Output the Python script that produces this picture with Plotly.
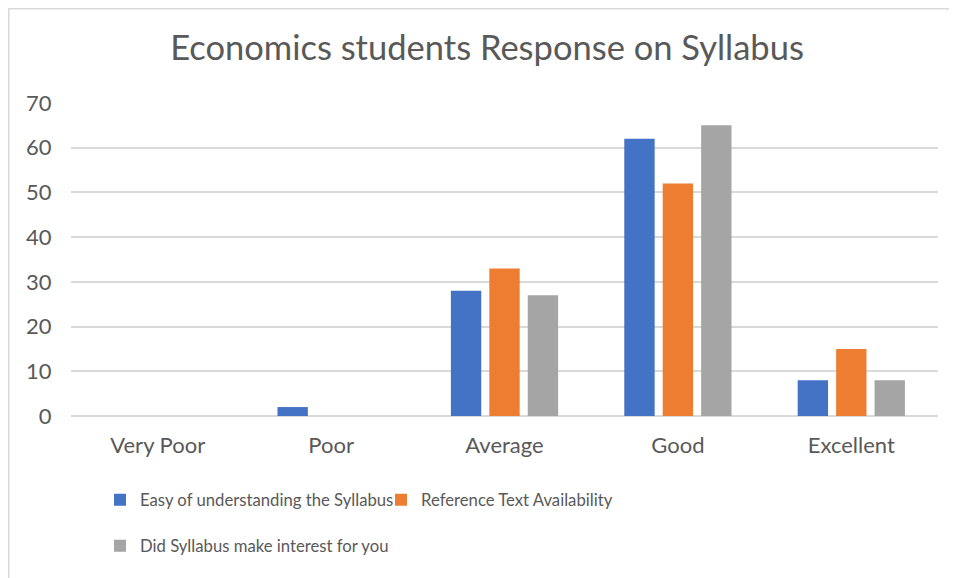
import plotly.graph_objects as go

categories = ["Very Poor", "Poor", "Average", "Good", "Excellent"]
series_names = [
    "Easy of understanding the Syllabus",
    "Reference Text Availability",
    "Did Syllabus make interest for you",
]
easy_vals = [0, 2, 28, 62, 8]
reference_vals = [0, 0, 33, 52, 15]
interest_vals = [0, 0, 27, 65, 8]
y_ticks = [0, 10, 20, 30, 40, 50, 60, 70]

colors = ["#4472C4", "#ED7D31", "#A5A5A5"]
FONT = "Lato"
TXT = "#595959"

fig = go.Figure()
for name, vals, col, lg in zip(series_names, [easy_vals, reference_vals, interest_vals],
                               colors, ["legend", "legend", "legend2"]):
    fig.add_trace(go.Bar(
        x=categories, y=vals, name=name,
        marker=dict(color=col, line=dict(width=0)),
        legend=lg,
    ))

# page body has an 8px margin, so the figure is a little smaller and shifted
OFF = 8
W, H = 957 - OFF, 578 - OFF
L, R, T, B = 71 - OFF, 19, 103 - OFF, 162
pw, ph = W - L - R, H - T - B

def px(x):
    return (x - OFF - L) / pw

def py(y):
    return (H - B - (y - OFF)) / ph

fig.update_layout(
    width=W, height=H,
    margin=dict(l=L, r=R, t=T, b=B),
    paper_bgcolor="white", plot_bgcolor="white",
    barmode="group", bargap=0.335, bargroupgap=0.21,
    font=dict(family=FONT, color=TXT, size=22),
    title=dict(text="Economics students Response on Syllabus",
               font=dict(family=FONT, size=34.5, color=TXT),
               x=px(487), xref="paper", xanchor="center",
               y=1 - (48 - OFF) / H, yref="container", yanchor="middle"),
    xaxis=dict(showgrid=False, showline=False, ticks="", ticklabelstandoff=14,
               automargin=False, tickfont=dict(size=22, color=TXT)),
    yaxis=dict(range=[0, 70], tickvals=y_ticks, showgrid=True, gridcolor="#d9d9d9",
               gridwidth=1.5, zeroline=True, zerolinecolor="#d9d9d9", zerolinewidth=1.5,
               showline=False, ticks="outside", ticklen=14, tickcolor="rgba(0,0,0,0)",
               automargin=False, tickfont=dict(size=22, color=TXT)),
    legend=dict(orientation="h", x=px(100), y=py(500), xanchor="left", yanchor="middle",
                xref="paper", yref="paper", entrywidth=236, entrywidthmode="pixels",
                font=dict(size=16.7, color=TXT), bgcolor="rgba(0,0,0,0)"),
    legend2=dict(orientation="h", x=px(100), y=py(546), xanchor="left", yanchor="middle",
                 xref="paper", yref="paper",
                 font=dict(size=16.7, color=TXT), bgcolor="rgba(0,0,0,0)"),
    shapes=[dict(type="rect", xref="paper", yref="paper",
                 x0=px(OFF + 0.75), x1=px(970), y0=py(600), y1=py(OFF + 0.75),
                 line=dict(color="#d9d9d9", width=1.5), fillcolor="rgba(0,0,0,0)",
                 layer="below")],
)

fig.write_html("out.html")
